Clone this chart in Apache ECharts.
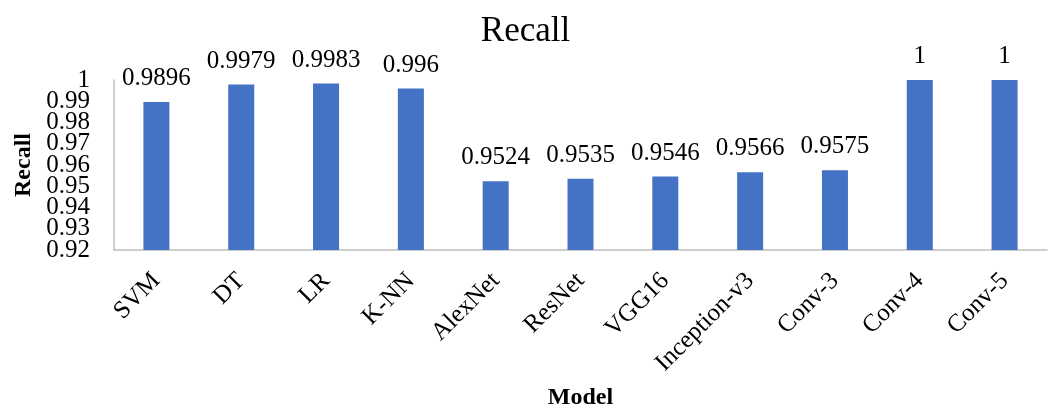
<!DOCTYPE html>
<html>
<head>
<meta charset="utf-8">
<script src="https://cdn.jsdelivr.net/npm/echarts@6/dist/echarts.min.js"></script>
<style>
  html, body { margin: 0; padding: 0; background: #fff; }
  #chart { width: 1051px; height: 410px; }
</style>
</head>
<body>
<div id="chart"></div>
<script>
// Recall per model
const models = ['SVM', 'DT', 'LR', 'K-NN', 'AlexNet', 'ResNet', 'VGG16', 'Inception-v3', 'Conv-3', 'Conv-4', 'Conv-5'];
const recall = [0.9896, 0.9979, 0.9983, 0.996, 0.9524, 0.9535, 0.9546, 0.9566, 0.9575, 1, 1];

// Value axis range and tick step
const yMin = 0.92;
const yMax = 1;
const yStep = 0.01;

const serif = 'Liberation Serif';

// The tick labels sit closer together than their font height, so the even and odd
// ticks are labelled by two coincident axes to keep every label visible.
const tickText = v => String(+v.toFixed(2));
const stepIndex = v => Math.round((v - yMin) / yStep);

function valueAxis(showEven, extra) {
  return Object.assign({
    type: 'value',
    min: yMin,
    max: yMax,
    interval: yStep,
    position: 'left',
    axisTick: { show: false },
    splitLine: { show: false },
    axisLabel: {
      margin: 24,
      fontFamily: serif,
      fontSize: 25,
      color: '#000',
      showMinLabel: true,
      showMaxLabel: true,
      formatter: v => (stepIndex(v) % 2 === 0) === showEven ? tickText(v) : ''
    }
  }, extra);
}

const chart = echarts.init(document.getElementById('chart'), null, { renderer: 'canvas' });

chart.setOption({
  animation: false,
  backgroundColor: '#ffffff',
  title: {
    text: 'Recall',
    left: 'center',
    top: 9,
    textStyle: { fontFamily: serif, fontSize: 35, fontWeight: 'normal', color: '#000' }
  },
  grid: { left: 114, right: 4, top: 80, bottom: 160, containLabel: false, outerBoundsMode: 'none' },
  xAxis: {
    type: 'category',
    data: models,
    name: 'Model',
    nameLocation: 'middle',
    nameGap: 136,
    nameTextStyle: { fontFamily: serif, fontSize: 24, fontWeight: 'bold', color: '#000' },
    axisLine: { lineStyle: { color: '#bfbfbf', width: 1.5 } },
    axisTick: { show: false },
    axisLabel: {
      interval: 0,
      rotate: 45,
      margin: 27,
      fontFamily: serif,
      fontSize: 25,
      color: '#000'
    }
  },
  yAxis: [
    valueAxis(true, {
      name: 'Recall',
      nameLocation: 'middle',
      nameGap: 72,
      nameTextStyle: { fontFamily: serif, fontSize: 24, fontWeight: 'bold', color: '#000' },
      axisLine: { show: true, lineStyle: { color: '#bfbfbf', width: 1.5 } }
    }),
    valueAxis(false, {
      axisLine: { show: false }
    })
  ],
  series: [{
    type: 'bar',
    yAxisIndex: 0,
    barWidth: 26,
    itemStyle: { color: '#4472C4' },
    data: recall,
    label: {
      show: true,
      position: 'top',
      distance: 11,
      fontFamily: serif,
      fontSize: 25,
      color: '#000',
      formatter: p => String(p.value)
    }
  }]
});
</script>
</body>
</html>
